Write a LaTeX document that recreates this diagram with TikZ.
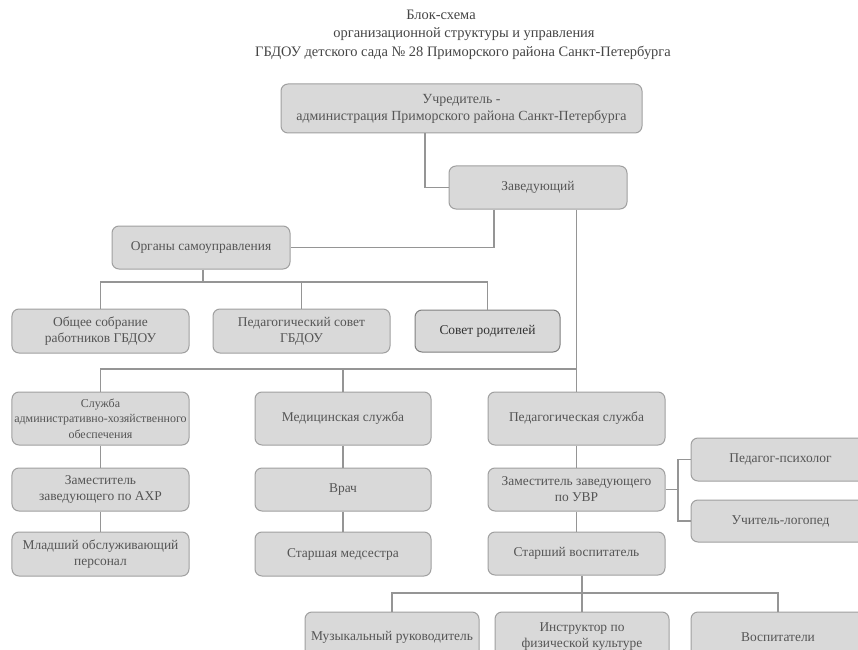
\documentclass[tikz,border=0pt]{standalone}
\usepackage{fontspec}
\setmainfont{Liberation Serif}
\definecolor{boxfill}{HTML}{D9D9D9}
\definecolor{boxline}{HTML}{A0A0A0}
\definecolor{connline}{HTML}{959595}
\definecolor{txt}{HTML}{555555}
\definecolor{ttl}{HTML}{454545}
\tikzset{
  box/.style={draw=boxline, line width=1bp, fill=boxfill, rounded corners=7bp,
    align=center, text=txt, inner sep=1bp, font=\fontsize{13.5}{16}\selectfont},
  darkbox/.style={box, draw=black!50, text=black!80},
  conn/.style={draw=connline, line width=1.2bp},
  ttlstyle/.style={text=ttl, font=\fontsize{14.5}{17}\selectfont, inner sep=0pt}
}
\begin{document}
\begin{tikzpicture}[x=1bp,y=-1bp]
\useasboundingbox (0,0) rectangle (858,650);
\clip (0,0) rectangle (858,650);
\fill[white] (0,0) rectangle (858,650);
% title
\node[ttlstyle] (t1) at (441,15) {Блок-схема};
\node[ttlstyle] (t2) at (464,34) {организационной структуры и управления};
\node[ttlstyle] (t3) at (463,53) {ГБДОУ детского сада № 28 Приморского района Санкт-Петербурга};
% boxes
\node[box, minimum width=361bp, minimum height=49bp, font=\fontsize{14}{17}\selectfont] (uch) at (461.5,108.5) {Учредитель -\\ администрация Приморского района Санкт-Петербурга};
\node[box, minimum width=178bp, minimum height=43bp] (zav) at (538,187.5) {Заведующий};
\node[box, minimum width=178bp, minimum height=43bp] (org) at (201,247.5) {Органы самоуправления};
\node[box, minimum width=177bp, minimum height=44bp] (obsh) at (100.5,331) {Общее собрание\\работников ГБДОУ};
\node[box, minimum width=177bp, minimum height=44bp] (pedsov) at (301.5,331) {Педагогический совет\\ГБДОУ};
\node[darkbox, minimum width=145bp, minimum height=42bp] (sovet) at (487.5,331) {Совет родителей};
\node[box, minimum width=177bp, minimum height=53bp, font=\fontsize{12}{15.5}\selectfont] (sluzh) at (100.5,418.5) {Служба\\административно-хозяйственного\\обеспечения};
\node[box, minimum width=176bp, minimum height=53bp] (med) at (343,418.5) {Медицинская служба};
\node[box, minimum width=177bp, minimum height=53bp] (ped) at (576.5,418.5) {Педагогическая служба};
\node[box, minimum width=177bp, minimum height=43bp] (zahr) at (100.5,489.5) {Заместитель\\заведующего по АХР};
\node[box, minimum width=176bp, minimum height=43bp] (vrach) at (343,489.5) {Врач};
\node[box, minimum width=177bp, minimum height=43bp] (zuvr) at (576.5,489.5) {Заместитель заведующего\\по УВР};
\node[box, minimum width=177bp, minimum height=44bp] (mlad) at (100.5,554) {Младший обслуживающий\\персонал};
\node[box, minimum width=176bp, minimum height=44bp] (stmed) at (343,554) {Старшая медсестра};
\node[box, minimum width=177bp, minimum height=43bp] (stvos) at (576.5,553.5) {Старший воспитатель};
\node[box, minimum width=179bp, minimum height=43bp] (psih) at (780.5,459.5) {Педагог-психолог};
\node[box, minimum width=179bp, minimum height=42bp] (log) at (780.5,521) {Учитель-логопед};
\node[box, minimum width=174bp, minimum height=50bp] (muz) at (392,637) {Музыкальный руководитель};
\node[box, minimum width=174bp, minimum height=50bp] (instr) at (582,637) {Инструктор по\\физической культуре};
\node[box, minimum width=174bp, minimum height=50bp] (vosp) at (778,637) {Воспитатели};
% junction coordinates
\coordinate (k1) at (425,0);
\coordinate (k2) at (494,0);
\coordinate (oj) at (203,282);
\coordinate (sj) at (0,369);
\coordinate (rj) at (678,0);
\coordinate (bj) at (0,593);
% connectors
\draw[conn] (uch.south -| k1) |- (zav.west);
\draw[conn] (zav.south -| k2) |- (org.east);
\draw[conn] (org.south -| oj) -- (oj);
\draw[conn] (obsh.north) |- (sovet.north |- oj) -- (sovet.north);
\draw[conn] (pedsov.north) -- (pedsov.north |- oj);
\draw[conn] (zav.south -| ped.north) -- (ped.north);
\draw[conn] (sluzh.north) |- (ped.north |- sj);
\draw[conn] (med.north) -- (med.north |- sj);
\draw[conn] (sluzh.south) -- (zahr.north);
\draw[conn] (zahr.south) -- (mlad.north);
\draw[conn] (med.south) -- (vrach.north);
\draw[conn] (vrach.south) -- (stmed.north);
\draw[conn] (ped.south) -- (zuvr.north);
\draw[conn] (zuvr.south) -- (stvos.north);
\draw[conn] (zuvr.east) -- (zuvr.east -| rj);
\draw[conn] (psih.west) -| (rj |- log.west) -- (log.west);
\draw[conn] (stvos.south -| instr.north) -- (instr.north);
\draw[conn] (muz.north) |- (vosp.north |- bj) -- (vosp.north);
\end{tikzpicture}
\end{document}
